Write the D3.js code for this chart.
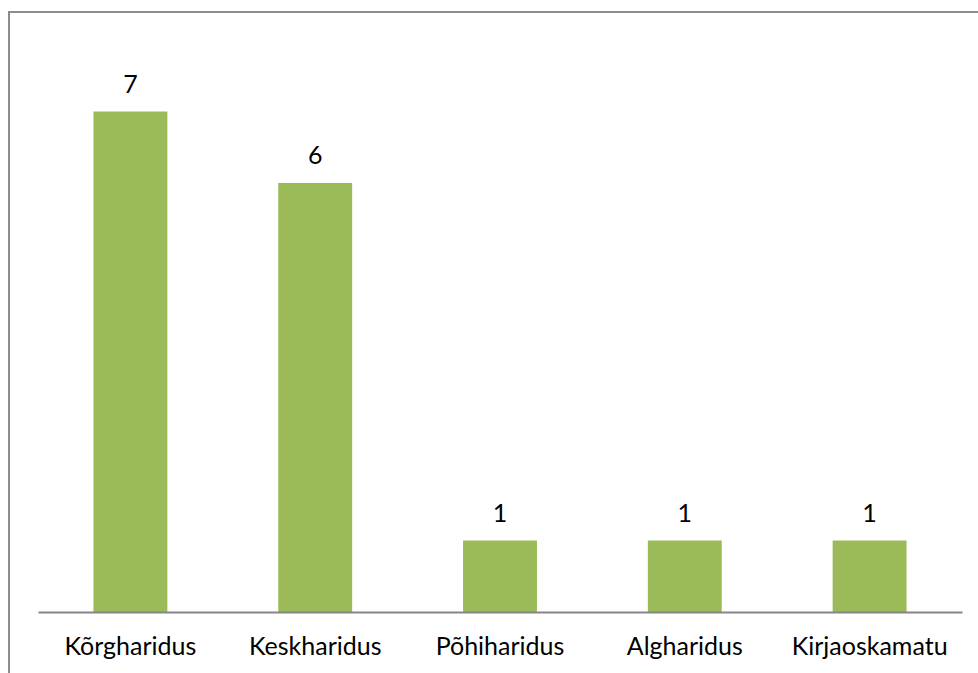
<!DOCTYPE html>
<html>
<head>
<meta charset="utf-8">
<script src="https://cdn.jsdelivr.net/npm/d3@7"></script>
<style>
  body { margin: 0; background: #fff; }
  svg { display: block; }
</style>
</head>
<body>
<div id="chart"></div>
<script>
// data
var categories = ['Kõrgharidus', 'Keskharidus', 'Põhiharidus', 'Algharidus', 'Kirjaoskamatu'];
var values = [7, 6, 1, 1, 1];

var attrs = {
  width: 978,
  height: 673,
  plotLeft: 38,
  plotRight: 962,
  plotTop: 40,
  plotBottom: 612,
  barColor: '#9BBB59',
  axisColor: '#868686',
  frameColor: '#8c8c8c',
  font: 'Lato, "Open Sans", sans-serif',
  fontSize: 25
};

var svg = d3.select('#chart').append('svg')
  .attr('width', attrs.width)
  .attr('height', attrs.height);

// outer frame (cut off at right and bottom)
svg.append('rect')
  .attr('x', 9)
  .attr('y', 12)
  .attr('width', 1000)
  .attr('height', 700)
  .attr('fill', 'none')
  .attr('stroke', attrs.frameColor)
  .attr('stroke-width', 2);

var x = d3.scaleBand()
  .domain(categories)
  .range([attrs.plotLeft, attrs.plotRight])
  .paddingInner(0.6)
  .paddingOuter(0.3);

var y = d3.scaleLinear()
  .domain([0, 8])
  .range([attrs.plotBottom, attrs.plotTop]);

// bars
svg.selectAll('.bar')
  .data(values)
  .enter()
  .append('rect')
  .attr('class', 'bar')
  .attr('x', function(d, i) { return x(categories[i]); })
  .attr('y', function(d) { return y(d); })
  .attr('width', x.bandwidth())
  .attr('height', function(d) { return y(0) - y(d); })
  .attr('fill', attrs.barColor);

// value labels
svg.selectAll('.value')
  .data(values)
  .enter()
  .append('text')
  .attr('class', 'value')
  .attr('x', function(d, i) { return x(categories[i]) + x.bandwidth() / 2; })
  .attr('y', function(d) { return y(d) - 19; })
  .attr('text-anchor', 'middle')
  .attr('font-family', attrs.font)
  .attr('font-size', attrs.fontSize)
  .attr('fill', '#000')
  .text(function(d) { return d; });

// x axis
var xAxis = d3.axisBottom(x).tickSize(0).tickPadding(0);
var axisG = svg.append('g')
  .attr('transform', 'translate(0,' + attrs.plotBottom + ')')
  .call(xAxis);
axisG.select('.domain')
  .attr('stroke', attrs.axisColor)
  .attr('stroke-width', 2);
axisG.selectAll('.tick text')
  .attr('font-family', attrs.font)
  .attr('font-size', attrs.fontSize)
  .attr('fill', '#000')
  .attr('dy', 0)
  .attr('y', 43);
</script>
</body>
</html>
